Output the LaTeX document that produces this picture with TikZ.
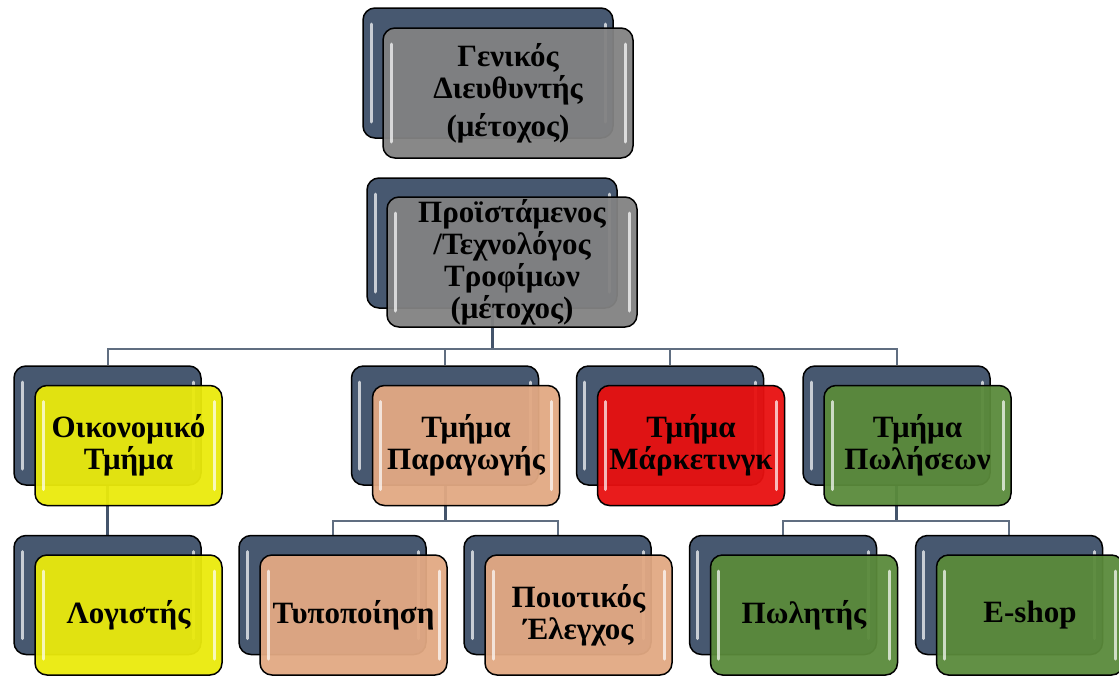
\documentclass[tikz,border=0pt]{standalone}
\usepackage{fontspec}
\setmainfont{Liberation Serif}
\usetikzlibrary{backgrounds}

\definecolor{slate}{HTML}{475870}
\definecolor{linkc}{HTML}{44546B}
\definecolor{boxgrey}{HTML}{828282}
\definecolor{boxyellow}{HTML}{EAEA0C}
\definecolor{boxpeach}{HTML}{E2A983}
\definecolor{boxred}{HTML}{E81010}
\definecolor{boxgreen}{HTML}{5A8A3B}

\begin{document}
\begin{tikzpicture}[
  x=1pt, y=-1pt,
  glossy/.style={path picture={
    \draw[white, opacity=0.7, line width=3pt, line cap=round]
      ([shift={(8pt,-16pt)}]path picture bounding box.north west) --
      ([shift={(8pt,16pt)}]path picture bounding box.south west)
      ([shift={(-8pt,-16pt)}]path picture bounding box.north east) --
      ([shift={(-8pt,16pt)}]path picture bounding box.south east);
  }},
  back/.style={draw=black, line width=1.5pt, rounded corners=12pt, fill=slate,
    minimum width=187pt, minimum height=119pt, inner sep=0pt, glossy},
  front/.style={draw=black, line width=1.5pt, rounded corners=12pt,
    fill opacity=0.95, text opacity=1, minimum width=187pt, minimum height=120pt,
    inner sep=0pt, align=center, font=\bfseries\fontsize{31}{32}\selectfont, glossy},
  big/.style={minimum width=250pt, minimum height=130pt},
  trunk/.style={draw=linkc, line width=3pt},
  branch/.style={draw=linkc!85!white, line width=2pt},
]
  \useasboundingbox (0,0) rectangle (1119,675);

  % Top levels
  \node[back, big] (ceoB) at (488,73) {};
  \node[front, big, fill=boxgrey] (ceoF) at ([shift={(20,20)}]ceoB)
    {Γενικός\\ Διευθυντής\\[6pt] (μέτοχος)};
  \node[back, big] (mgrB) at (492,243) {};
  \node[front, big, fill=boxgrey] (mgrF) at ([shift={(20,19)}]mgrB)
    {Προϊστάμενος\\ /Τεχνολόγος\\ Τροφίμων\\ (μέτοχος)};

  % Departments
  \node[back] (finB) at (107.5,425.5) {};
  \node[front, fill=boxyellow] (finF) at ([shift={(21,20)}]finB) {Οικονομικό\\ Τμήμα};
  \node[back] (prodB) at (445,425.5) {};
  \node[front, fill=boxpeach] (prodF) at ([shift={(21,20)}]prodB) {Τμήμα\\ Παραγωγής};
  \node[back] (mktB) at (670,425.5) {};
  \node[front, fill=boxred] (mktF) at ([shift={(21,20)}]mktB) {Τμήμα\\ Μάρκετινγκ};
  \node[back] (salB) at (896.5,425.5) {};
  \node[front, fill=boxgreen] (salF) at ([shift={(21,20)}]salB) {Τμήμα\\ Πωλήσεων};

  % Staff
  \node[back] (accB) at (107.5,595) {};
  \node[front, fill=boxyellow] (accF) at ([shift={(21,20)}]accB) {Λογιστής};
  \node[back] (packB) at (332.5,595) {};
  \node[front, fill=boxpeach] (packF) at ([shift={(21,20)}]packB) {Τυποποίηση};
  \node[back] (qcB) at (557.5,595) {};
  \node[front, fill=boxpeach] (qcF) at ([shift={(21,20)}]qcB) {Ποιοτικός\\ Έλεγχος};
  \node[back] (sellB) at (783,595) {};
  \node[front, fill=boxgreen] (sellF) at ([shift={(21,20)}]sellB) {Πωλητής};
  \node[back] (shopB) at (1009,595) {};
  \node[front, fill=boxgreen] (shopF) at ([shift={(21,20)}]shopB) {E-shop};

  % Connectors
  \coordinate (bus1) at (492,349);
  \coordinate (bus2) at (445,521);
  \coordinate (bus3) at (896.5,521);
  \begin{scope}[on background layer]
    \draw[trunk] (mgrB.center) -- (bus1);
    \draw[branch] (finB.north) -- (finB.north |- bus1) -- (salB.north |- bus1) -- (salB.north);
    \draw[branch] (prodB.north) -- (prodB.north |- bus1);
    \draw[branch] (mktB.north) -- (mktB.north |- bus1);
    \draw[trunk] (finB.center) -- (accB.center);
    \draw[trunk] (prodB.center) -- (bus2);
    \draw[branch] (packB.north) -- (packB.north |- bus2) -- (qcB.north |- bus2) -- (qcB.north);
    \draw[trunk] (salB.center) -- (bus3);
    \draw[branch] (sellB.north) -- (sellB.north |- bus3) -- (shopB.north |- bus3) -- (shopB.north);
  \end{scope}
\end{tikzpicture}
\end{document}
